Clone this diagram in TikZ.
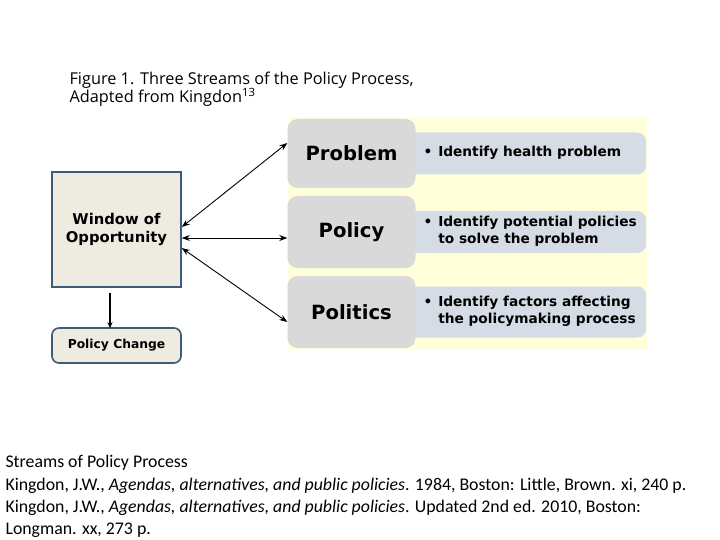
\documentclass[tikz,border=0pt]{standalone}
\usepackage{fontspec}
\setmainfont{Open Sans}
\newfontfamily\figbold{DejaVu Sans}
\newfontfamily\reffont{Carlito}
\usepackage{tikz}
\usetikzlibrary{arrows.meta}
\definecolor{streamgray}{HTML}{D9D9D9}
\definecolor{streamblue}{HTML}{D6DCE5}
\definecolor{paleyellow}{HTML}{FFFFD9}
\definecolor{winfill}{HTML}{EEECE1}
\definecolor{winline}{HTML}{3F5B7A}

\begin{document}
\begin{tikzpicture}[x=1pt, y=-1pt,
		stream/.style={fill=streamgray, rounded corners=10pt, minimum width=128pt, font=\figbold\fontsize{19.6}{23}\selectfont\bfseries},
		detail/.style={fill=streamblue, rounded corners=9pt, minimum width=241pt, anchor=west},
		win/.style={draw=winline, line width=1.6pt, fill=winfill, minimum width=129pt, font=\figbold\fontsize{14.8}{18.5}\selectfont\bfseries, align=center},
		link/.style={{Stealth[length=8pt, width=6pt]}-{Stealth[length=8pt, width=6pt]}, line width=0.9pt}]
		\useasboundingbox (0, 0) rectangle (720, 540);
		\fill[white] (0, 0) rectangle (720, 540);
		\fill[paleyellow] (288, 117) rectangle (647, 350);
		\node[anchor=north west, align=left, font=\fontsize{16.3}{18.5}\selectfont] (title) at (66, 68) {Figure 1. Three Streams of the Policy Process,\\Adapted from Kingdon\textsuperscript{13}};
		\node[detail, minimum height=42pt] (probtxt) at (405, 153.5) {};
		\node[detail, minimum height=42pt] (poltxt) at (405, 232) {};
		\node[detail, minimum height=51pt] (polittxt) at (405, 312) {};
		\node[stream, minimum height=69pt] (prob) at (351.5, 153.5) {Problem};
		\node[stream, minimum height=72pt] (pol) at (351.5, 232) {Policy};
		\node[stream, minimum height=72pt] (polit) at (351.5, 312) {Politics};
		\foreach \dnode/\txt in {probtxt/{\textbullet & Identify health problem}, poltxt/{\textbullet & Identify potential policies\\ & to solve the problem}, polittxt/{\textbullet & Identify factors affecting\\ & the policymaking process}}
			\node[anchor=west, font=\figbold\fontsize{13.7}{17}\selectfont\bfseries] (\dnode-label) at ([xshift=15pt]\dnode.west) {\begin{tabular}{@{}l@{\hspace{6pt}}l@{}}\txt\end{tabular}};
		\node[win, minimum height=115pt] (window) at (116.5, 229.5) {Window of\\Opportunity};
		\node[win, minimum height=35pt, rounded corners=7pt, font=\figbold\fontsize{12.3}{15}\selectfont\bfseries] (change) at (116.5, 345.5) {Policy Change};
		\draw[link] ([yshift=2.5pt]window.east) -- ([yshift=10.5pt]prob.west);
		\draw[link] ([yshift=-8.5pt]window.east) -- ([yshift=-6pt]pol.west);
		\draw[link] ([yshift=-18.5pt]window.east) -- ([yshift=-10pt]polit.west);
		\draw[-{Stealth[length=6pt, width=5pt]}, line width=2pt] ([xshift=-6.5pt, yshift=-5pt]window.south) -- ([xshift=-6.5pt, yshift=-1pt]change.north);
		\node[anchor=north west, align=left, font=\reffont\fontsize{17.8}{22.3}\selectfont] (refs) at (2, 452) {Streams of Policy Process\\Kingdon, J.W., \textit{Agendas, alternatives, and public policies}. 1984, Boston: Little, Brown. xi, 240 p.\\Kingdon, J.W., \textit{Agendas, alternatives, and public policies}. Updated 2nd ed. 2010, Boston:\\Longman. xx, 273 p.};
	\end{tikzpicture}
\end{document}
